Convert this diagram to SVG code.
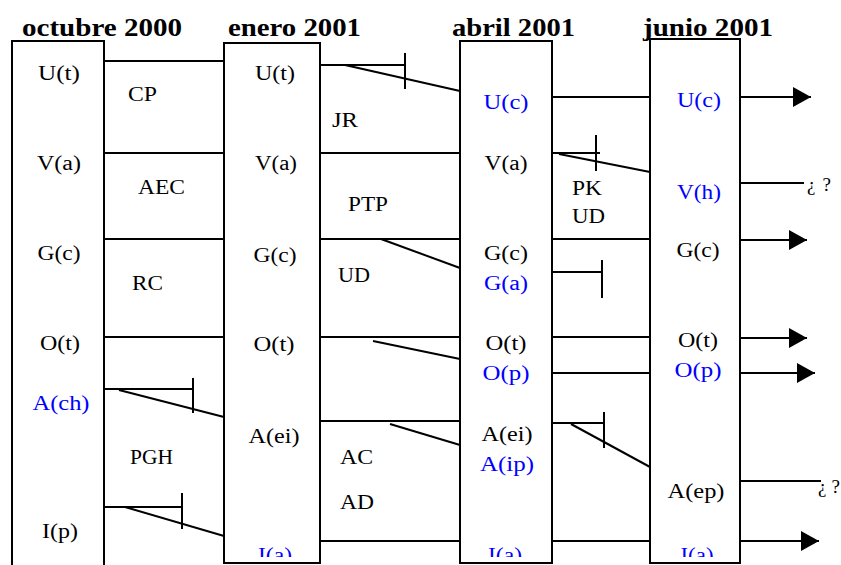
<svg xmlns="http://www.w3.org/2000/svg" width="841" height="565" viewBox="0 0 841 565">
  <style>
    .box { fill: none; stroke: #000; stroke-width: 2; }
    .ln { fill: none; stroke: #000; stroke-width: 2; }
    text { font-family: "Liberation Serif", "Times New Roman", serif; }
    .hdr { font-weight: bold; font-size: 26px; fill: #000; }
    .lbl { font-size: 20px; fill: #000; }
    .c { text-anchor: middle; }
    .blue { fill: #0000ff; }
    .q { font-size: 19px; fill: #000; }
  </style>
  <defs>
    <marker id="arrow" markerUnits="userSpaceOnUse" markerWidth="19" markerHeight="20" refX="18" refY="10" orient="auto">
      <path d="M0,0 L18,10 L0,20 Z" fill="#000"/>
    </marker>
    <!-- the last row of labels runs past the bottom of the columns and is cut -->
    <clipPath id="bottomClip">
      <rect x="0" y="0" width="841" height="557"/>
    </clipPath>
  </defs>

  <rect width="841" height="565" fill="#fff"/>

  <!-- column headings -->
  <g id="headings">
    <text class="hdr" x="22" y="36" textLength="160" lengthAdjust="spacingAndGlyphs">octubre 2000</text>
    <text class="hdr" x="228" y="36" textLength="133" lengthAdjust="spacingAndGlyphs">enero 2001</text>
    <text class="hdr" x="452" y="36" textLength="123" lengthAdjust="spacingAndGlyphs">abril 2001</text>
    <text class="hdr" x="643" y="36" textLength="130" lengthAdjust="spacingAndGlyphs">junio 2001</text>
  </g>

  <!-- October 2000 column -->
  <g id="col-oct2000">
    <rect class="box" x="12" y="41" width="92" height="540"/>
    <text class="lbl c" x="59" y="80" textLength="42" lengthAdjust="spacingAndGlyphs">U(t)</text>
    <text class="lbl c" x="59" y="170" textLength="44" lengthAdjust="spacingAndGlyphs">V(a)</text>
    <text class="lbl c" x="59" y="260" textLength="43" lengthAdjust="spacingAndGlyphs">G(c)</text>
    <text class="lbl c" x="60" y="350" textLength="40" lengthAdjust="spacingAndGlyphs">O(t)</text>
    <text class="lbl c blue" x="61" y="410" textLength="57" lengthAdjust="spacingAndGlyphs">A(ch)</text>
    <text class="lbl c" x="60" y="538" textLength="36" lengthAdjust="spacingAndGlyphs">I(p)</text>
  </g>

  <!-- January 2001 column -->
  <g id="col-ene2001">
    <rect class="box" x="224" y="43" width="96" height="520"/>
    <text class="lbl c" x="275" y="80" textLength="40" lengthAdjust="spacingAndGlyphs">U(t)</text>
    <text class="lbl c" x="276" y="170" textLength="42" lengthAdjust="spacingAndGlyphs">V(a)</text>
    <text class="lbl c" x="275" y="262" textLength="43" lengthAdjust="spacingAndGlyphs">G(c)</text>
    <text class="lbl c" x="274" y="351" textLength="41" lengthAdjust="spacingAndGlyphs">O(t)</text>
    <text class="lbl c" x="274" y="443" textLength="51" lengthAdjust="spacingAndGlyphs">A(ei)</text>
    <text class="lbl c blue" x="275" y="562" textLength="34" lengthAdjust="spacingAndGlyphs" clip-path="url(#bottomClip)">I(a)</text>
  </g>

  <!-- April 2001 column -->
  <g id="col-abr2001">
    <rect class="box" x="460" y="41" width="92" height="522"/>
    <text class="lbl c blue" x="506" y="109" textLength="45" lengthAdjust="spacingAndGlyphs">U(c)</text>
    <text class="lbl c" x="506" y="170" textLength="43" lengthAdjust="spacingAndGlyphs">V(a)</text>
    <text class="lbl c" x="506" y="260" textLength="44" lengthAdjust="spacingAndGlyphs">G(c)</text>
    <text class="lbl c blue" x="506" y="290" textLength="44" lengthAdjust="spacingAndGlyphs">G(a)</text>
    <text class="lbl c" x="506" y="350" textLength="41" lengthAdjust="spacingAndGlyphs">O(t)</text>
    <text class="lbl c blue" x="506" y="380" textLength="47" lengthAdjust="spacingAndGlyphs">O(p)</text>
    <text class="lbl c" x="507" y="441" textLength="51" lengthAdjust="spacingAndGlyphs">A(ei)</text>
    <text class="lbl c blue" x="507" y="471" textLength="54" lengthAdjust="spacingAndGlyphs">A(ip)</text>
    <text class="lbl c blue" x="505" y="562" textLength="34" lengthAdjust="spacingAndGlyphs" clip-path="url(#bottomClip)">I(a)</text>
  </g>

  <!-- June 2001 column -->
  <g id="col-jun2001">
    <rect class="box" x="650" y="39" width="90" height="524"/>
    <text class="lbl c blue" x="699" y="107" textLength="44" lengthAdjust="spacingAndGlyphs">U(c)</text>
    <text class="lbl c blue" x="699" y="199" textLength="44" lengthAdjust="spacingAndGlyphs">V(h)</text>
    <text class="lbl c" x="698" y="257" textLength="43" lengthAdjust="spacingAndGlyphs">G(c)</text>
    <text class="lbl c" x="698" y="347" textLength="40" lengthAdjust="spacingAndGlyphs">O(t)</text>
    <text class="lbl c blue" x="698" y="377" textLength="47" lengthAdjust="spacingAndGlyphs">O(p)</text>
    <text class="lbl c" x="696" y="498" textLength="57" lengthAdjust="spacingAndGlyphs">A(ep)</text>
    <text class="lbl c blue" x="697" y="562" textLength="33" lengthAdjust="spacingAndGlyphs" clip-path="url(#bottomClip)">I(a)</text>
  </g>

  <!-- labels on the links between columns -->
  <g id="link-labels">
    <text class="lbl" x="128" y="101" textLength="29" lengthAdjust="spacingAndGlyphs">CP</text>
    <text class="lbl" x="138" y="194" textLength="47" lengthAdjust="spacingAndGlyphs">AEC</text>
    <text class="lbl" x="132" y="290" textLength="31" lengthAdjust="spacingAndGlyphs">RC</text>
    <text class="lbl" x="130" y="464" textLength="43" lengthAdjust="spacingAndGlyphs">PGH</text>
    <text class="lbl" x="332" y="127" textLength="26" lengthAdjust="spacingAndGlyphs">JR</text>
    <text class="lbl" x="348" y="211" textLength="40" lengthAdjust="spacingAndGlyphs">PTP</text>
    <text class="lbl" x="338" y="282" textLength="32" lengthAdjust="spacingAndGlyphs">UD</text>
    <text class="lbl" x="340" y="464" textLength="33" lengthAdjust="spacingAndGlyphs">AC</text>
    <text class="lbl" x="340" y="509" textLength="34" lengthAdjust="spacingAndGlyphs">AD</text>
    <text class="lbl" x="572" y="195" textLength="30" lengthAdjust="spacingAndGlyphs">PK</text>
    <text class="lbl" x="572" y="223" textLength="33" lengthAdjust="spacingAndGlyphs">UD</text>
    <text class="q" x="807" y="191" textLength="24" lengthAdjust="spacing">¿?</text>
    <text class="q" x="818" y="493" textLength="22" lengthAdjust="spacing">¿?</text>
  </g>

  <!-- connectors -->
  <g id="connectors" class="ln">
    <!-- octubre 2000 to enero 2001 -->
    <line x1="104" y1="61" x2="224" y2="61"/>
    <line x1="104" y1="153" x2="224" y2="153"/>
    <line x1="104" y1="239" x2="224" y2="239"/>
    <line x1="104" y1="337" x2="224" y2="337"/>
    <line x1="104" y1="389" x2="193" y2="389"/>
    <line x1="193" y1="378" x2="193" y2="413"/>
    <line x1="119" y1="390" x2="224" y2="417"/>
    <line x1="104" y1="507" x2="182" y2="507"/>
    <line x1="182" y1="493" x2="182" y2="529"/>
    <line x1="125" y1="507" x2="224" y2="536"/>

    <!-- enero 2001 to abril 2001 -->
    <line x1="320" y1="65" x2="405" y2="65"/>
    <line x1="405" y1="53" x2="405" y2="89"/>
    <line x1="345" y1="65" x2="460" y2="91"/>
    <line x1="320" y1="153" x2="460" y2="153"/>
    <line x1="320" y1="239" x2="460" y2="239"/>
    <line x1="381" y1="239" x2="460" y2="268"/>
    <line x1="320" y1="337" x2="460" y2="337"/>
    <line x1="373" y1="341" x2="460" y2="359"/>
    <line x1="320" y1="421" x2="460" y2="421"/>
    <line x1="390" y1="424" x2="460" y2="445"/>
    <line x1="320" y1="541" x2="460" y2="541"/>

    <!-- abril 2001 to junio 2001 -->
    <line x1="552" y1="97" x2="650" y2="97"/>
    <line x1="552" y1="153" x2="600" y2="153"/>
    <line x1="596" y1="135" x2="596" y2="171"/>
    <line x1="559" y1="154" x2="650" y2="172"/>
    <line x1="552" y1="239" x2="650" y2="239"/>
    <line x1="552" y1="272" x2="602" y2="272"/>
    <line x1="602" y1="260" x2="602" y2="298"/>
    <line x1="552" y1="337" x2="650" y2="337"/>
    <line x1="552" y1="373" x2="650" y2="373"/>
    <line x1="552" y1="423" x2="604" y2="423"/>
    <line x1="604" y1="412" x2="604" y2="448"/>
    <line x1="571" y1="424" x2="650" y2="467"/>
    <line x1="552" y1="541" x2="650" y2="541"/>

    <!-- outgoing from junio 2001 -->
    <line x1="740" y1="97" x2="811" y2="97" marker-end="url(#arrow)"/>
    <line x1="740" y1="183" x2="804" y2="183"/>
    <line x1="740" y1="240" x2="807" y2="240" marker-end="url(#arrow)"/>
    <line x1="740" y1="338" x2="807" y2="338" marker-end="url(#arrow)"/>
    <line x1="740" y1="373" x2="815" y2="373" marker-end="url(#arrow)"/>
    <line x1="740" y1="481" x2="821" y2="481"/>
    <line x1="740" y1="541" x2="819" y2="541" marker-end="url(#arrow)"/>
  </g>
</svg>
